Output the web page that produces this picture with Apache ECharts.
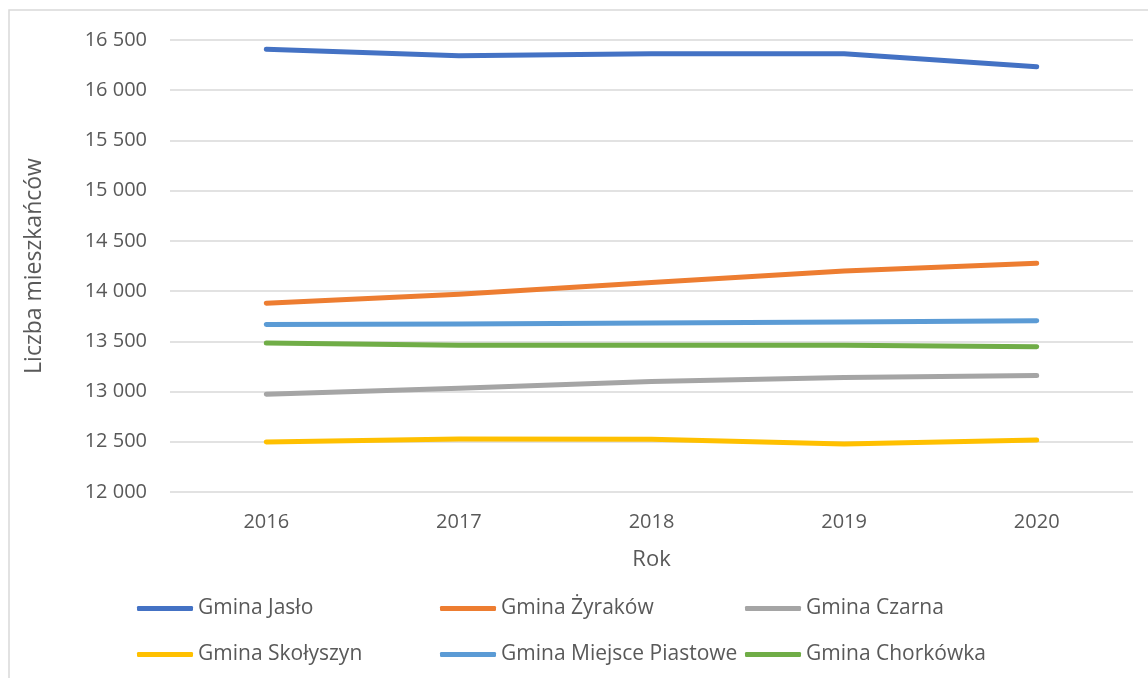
<!DOCTYPE html>
<html>
<head>
<meta charset="utf-8">
<script src="https://cdn.jsdelivr.net/npm/echarts@6/dist/echarts.min.js"></script>
<style>
  html, body { margin: 0; padding: 0; background: #fff; }
  #main { width: 1148px; height: 678px; }
</style>
</head>
<body>
<div id="main"></div>
<script>
// dane
var years = ['2016', '2017', '2018', '2019', '2020'];
var seriesNames = ['Gmina Jasło', 'Gmina Żyraków', 'Gmina Czarna', 'Gmina Skołyszyn', 'Gmina Miejsce Piastowe', 'Gmina Chorkówka'];
var jaslo = [16409, 16343, 16363, 16363, 16233];
var zyrakow = [13880, 13969, 14085, 14200, 14278];
var czarna = [12973, 13033, 13099, 13139, 13159];
var skolyszyn = [12498, 12528, 12525, 12478, 12518];
var miejscePiastowe = [13667, 13673, 13683, 13693, 13706];
var chorkowka = [13484, 13461, 13461, 13461, 13447];
var colors = ['#4472C4', '#ED7D31', '#A5A5A5', '#FFC000', '#5B9BD5', '#70AD47'];

var allData = [jaslo, zyrakow, czarna, skolyszyn, miejscePiastowe, chorkowka];
var font = '"Open Sans", sans-serif';

var chart = echarts.init(document.getElementById('main'));

// legenda w 3 kolumnach, 2 wiersze
var legendPos = [
  [137, 598], [440, 598], [745, 598],
  [137, 644], [440, 644], [745, 644]
];
var legends = seriesNames.map(function (name, i) {
  return {
    data: [name],
    left: legendPos[i][0],
    top: legendPos[i][1],
    icon: 'roundRect',
    itemWidth: 56,
    itemHeight: 5,
    padding: 0,
    textStyle: { fontFamily: font, fontSize: 21, color: '#595959' }
  };
});

var series = seriesNames.map(function (name, i) {
  return {
    name: name,
    type: 'line',
    data: allData[i],
    symbol: 'none',
    lineStyle: { width: 5, color: colors[i], cap: 'round', join: 'round' },
    itemStyle: { color: colors[i] }
  };
});

var option = {
  animation: false,
  backgroundColor: '#fff',
  color: colors,
  graphic: [{
    type: 'rect',
    shape: { x: 9, y: 10, width: 1200, height: 700 },
    style: { fill: 'none', stroke: '#D9D9D9', lineWidth: 1.5 },
    silent: true
  }],
  grid: { left: 170, right: 15, top: 40, bottom: 186 },
  legend: legends,
  xAxis: {
    type: 'category',
    data: years,
    name: 'Rok',
    nameLocation: 'middle',
    nameGap: 57,
    nameTextStyle: { fontFamily: font, fontSize: 22, color: '#595959' },
    axisLine: { show: false },
    axisTick: { show: false },
    axisLabel: { fontFamily: font, fontSize: 20, color: '#595959', margin: 20 }
  },
  yAxis: {
    type: 'value',
    min: 12000,
    max: 16500,
    interval: 500,
    name: 'Liczba mieszkańców',
    nameLocation: 'middle',
    nameGap: 124,
    nameTextStyle: { fontFamily: font, fontSize: 23, color: '#595959' },
    axisLabel: {
      fontFamily: font, fontSize: 20, color: '#595959', margin: 23,
      formatter: function (v) { return String(v).replace(/\B(?=(\d{3})+(?!\d))/g, ' '); }
    },
    splitLine: { lineStyle: { color: '#D9D9D9', width: 1.5 } }
  },
  series: series
};

chart.setOption(option);
</script>
</body>
</html>
